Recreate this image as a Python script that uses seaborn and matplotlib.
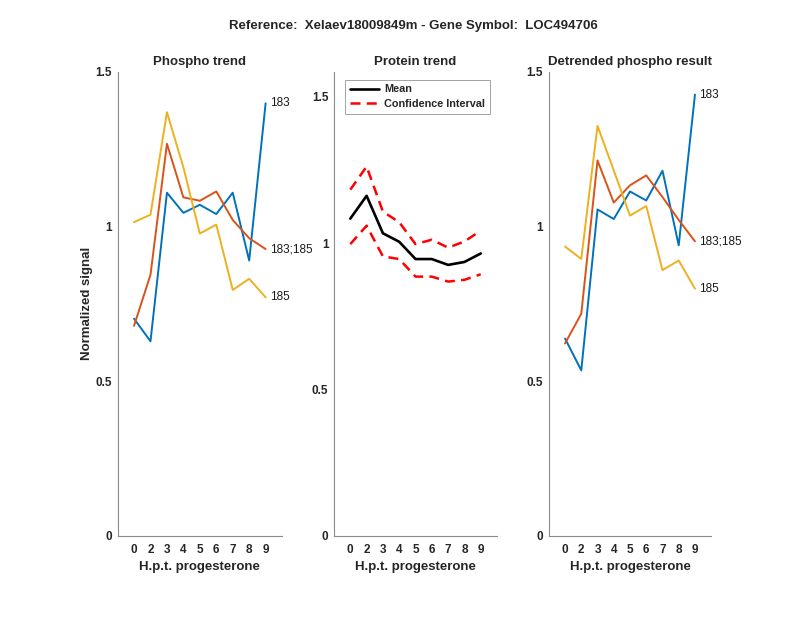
import numpy as np
import pandas as pd
import matplotlib
matplotlib.use("Agg")
import matplotlib.pyplot as plt
import seaborn as sns

# hours post progesterone (categorical ticks)
hours = ["0", "2", "3", "4", "5", "6", "7", "8", "9"]

# Phospho trend
phospho_183 = [0.702, 0.629, 1.109, 1.044, 1.070, 1.040, 1.109, 0.890, 1.398]
phospho_183_185 = [0.679, 0.844, 1.267, 1.094, 1.083, 1.113, 1.021, 0.962, 0.927]
phospho_185 = [1.014, 1.038, 1.369, 1.191, 0.977, 1.006, 0.795, 0.831, 0.771]

# Protein trend
protein_mean = [1.084, 1.162, 1.034, 1.005, 0.946, 0.946, 0.926, 0.936, 0.965]
protein_upper = [1.183, 1.262, 1.108, 1.072, 0.997, 1.012, 0.985, 1.006, 1.043]
protein_lower = [0.997, 1.060, 0.955, 0.946, 0.886, 0.886, 0.869, 0.875, 0.894]

# Detrended phospho result
detr_183 = [0.638, 0.535, 1.055, 1.024, 1.113, 1.084, 1.180, 0.939, 1.426]
detr_183_185 = [0.622, 0.718, 1.213, 1.077, 1.133, 1.165, 1.095, 1.021, 0.952]
detr_185 = [0.935, 0.895, 1.325, 1.181, 1.035, 1.066, 0.859, 0.890, 0.799]

site_labels = ["183", "183;185", "185"]
colors = ["#0072BD", "#D95319", "#EDB120"]

sns.set_style("white")
plt.rcParams["font.family"] = ["Liberation Sans", "DejaVu Sans"]

pos = np.arange(1, len(hours) + 1)

fig = plt.figure(figsize=(8, 6.18), dpi=100)
ax1 = fig.add_axes([0.147, 0.1327, 0.2056, 0.7513])
ax2 = fig.add_axes([0.4175, 0.1327, 0.2038, 0.7513])
ax3 = fig.add_axes([0.686, 0.1327, 0.2030, 0.7513])

def style_axes(ax, ytop):
    ax.set_xlim(0, 10)
    ax.set_ylim(0, ytop)
    ax.set_xticks(pos)
    ax.set_xticklabels(hours)
    ax.set_yticks([0, 0.5, 1, 1.5])
    ax.set_yticklabels(["0", "0.5", "1", "1.5"])
    for s in ["top", "right"]:
        ax.spines[s].set_visible(False)
    for s in ["left", "bottom"]:
        ax.spines[s].set_color("#8c8c8c")
        ax.spines[s].set_linewidth(0.8)
    ax.tick_params(direction="in", length=4, width=0.7, color="#8c8c8c",
                   labelsize=8.5, labelcolor="#262626", pad=4)
    ax.tick_params(axis="x", pad=5.5)
    for lab in ax.get_xticklabels() + ax.get_yticklabels():
        lab.set_fontweight("bold")
    ax.set_xlabel("H.p.t. progesterone", fontsize=9.5, fontweight="bold",
                  color="#262626", labelpad=4)

def phospho_panel(ax, series, title):
    for vals, c, lab in zip(series, colors, site_labels):
        sns.lineplot(x=pos, y=vals, color=c, linewidth=1.4, ax=ax)
        ax.text(9.25, vals[-1], lab, va="center", ha="left", fontsize=8.5,
                color="#1a1a1a")
    ax.set_title(title, fontsize=9.5, fontweight="bold", pad=5)
    style_axes(ax, 1.5)

phospho_panel(ax1, [phospho_183, phospho_183_185, phospho_185], "Phospho trend")
ax1.set_ylabel("Normalized signal", fontsize=9.5, fontweight="bold",
               color="#262626", labelpad=2)

# protein trend with confidence interval
sns.lineplot(x=pos, y=protein_mean, color="black", linewidth=1.9,
             label="Mean", ax=ax2)
sns.lineplot(x=pos, y=protein_upper, color="red", linewidth=1.8,
             label="Confidence Interval", ax=ax2)
sns.lineplot(x=pos, y=protein_lower, color="red", linewidth=1.8, ax=ax2)
for ln in ax2.lines[1:]:
    ln.set_linestyle((0, (4, 2.5)))
ax2.set_title("Protein trend", fontsize=9.5, fontweight="bold", pad=5)
style_axes(ax2, 1.586)
leg = ax2.legend(loc="upper left", bbox_to_anchor=(0.067, 0.983), frameon=True,
                 fancybox=False, edgecolor="#8c8c8c", handlelength=2.7,
                 borderpad=0.45, labelspacing=0.4, handletextpad=0.5,
                 borderaxespad=0, prop={"size": 7.8, "weight": "bold"})
leg.get_frame().set_linewidth(0.7)

phospho_panel(ax3, [detr_183, detr_183_185, detr_185], "Detrended phospho result")

fig.text(413 / 800, 1 - 26 / 618,
         "Reference:  Xelaev18009849m - Gene Symbol:  LOC494706",
         ha="center", va="center", fontsize=9.5, fontweight="bold")

fig.savefig("out.png", dpi=100, facecolor="white")
